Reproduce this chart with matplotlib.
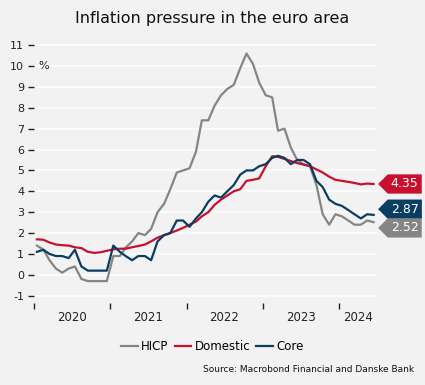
import numpy as np
import pandas as pd
import matplotlib
matplotlib.use("Agg")
import matplotlib.pyplot as plt
from matplotlib.path import Path

plt.rcParams["axes.unicode_minus"] = False

# monthly y/y rates, Jan 2020 - Jun 2024
hicp = [1.4, 1.2, 0.7, 0.3, 0.1, 0.3, 0.4, -0.2, -0.3, -0.3, -0.3, -0.3,
        0.9, 0.9, 1.3, 1.6, 2.0, 1.9, 2.2, 3.0, 3.4, 4.1, 4.9, 5.0,
        5.1, 5.9, 7.4, 7.4, 8.1, 8.6, 8.9, 9.1, 9.9, 10.6, 10.1, 9.2,
        8.6, 8.5, 6.9, 7.0, 6.1, 5.5, 5.3, 5.2, 4.3, 2.9, 2.4, 2.9,
        2.8, 2.6, 2.4, 2.4, 2.6, 2.52]
domestic = [1.70, 1.68, 1.55, 1.45, 1.42, 1.40, 1.32, 1.28, 1.10, 1.05, 1.08, 1.15,
            1.22, 1.25, 1.25, 1.32, 1.38, 1.45, 1.60, 1.78, 1.90, 2.00, 2.12, 2.25,
            2.40, 2.55, 2.80, 3.00, 3.35, 3.60, 3.80, 4.00, 4.10, 4.50, 4.55, 4.62,
            5.20, 5.68, 5.65, 5.55, 5.45, 5.35, 5.28, 5.20, 5.05, 4.90, 4.70, 4.55,
            4.50, 4.45, 4.40, 4.33, 4.37, 4.35]
core = [1.1, 1.2, 1.0, 0.9, 0.9, 0.8, 1.2, 0.4, 0.2, 0.2, 0.2, 0.2,
        1.4, 1.1, 0.9, 0.7, 0.9, 0.9, 0.7, 1.6, 1.9, 2.0, 2.6, 2.6,
        2.3, 2.7, 3.0, 3.5, 3.8, 3.7, 4.0, 4.3, 4.8, 5.0, 5.0, 5.2,
        5.3, 5.6, 5.7, 5.6, 5.3, 5.5, 5.5, 5.3, 4.5, 4.2, 3.6, 3.4,
        3.3, 3.1, 2.9, 2.7, 2.9, 2.87]
years = ["2020", "2021", "2022", "2023", "2024"]

dates = pd.date_range("2020-01-01", periods=len(hicp), freq="MS") + pd.Timedelta(days=14)

c_hicp = "#858585"
c_dom = "#c8102e"
c_core = "#0a3d62"
bg = "#f2f2f2"

fig = plt.figure(figsize=(4.25, 3.85), dpi=100, facecolor=bg)
ax = fig.add_axes([0.08, 0.213, 0.807, 0.686], facecolor=bg)

ax.plot(dates, hicp, color=c_hicp, lw=1.6, label="HICP")
ax.plot(dates, domestic, color=c_dom, lw=1.6, label="Domestic")
ax.plot(dates, core, color=c_core, lw=1.6, label="Core")

ax.set_ylim(-1.35, 11.3)
ax.set_yticks(range(-1, 12))
ax.grid(axis="y", color="white", lw=1.1)
ax.set_axisbelow(True)
for s in ax.spines.values():
    s.set_visible(False)

ax.set_xlim(pd.Timestamp("2020-01-01"), pd.Timestamp("2024-07-01"))
ax.set_xticks([pd.Timestamp(f"{y}-01-01") for y in years])
ax.set_xticklabels([])
mids = [pd.Timestamp(f"{y}-07-01") for y in years[:-1]] + [pd.Timestamp("2024-04-01")]
ax.set_xticks(mids, minor=True)
ax.set_xticklabels(years, minor=True)
ax.tick_params(axis="x", which="major", length=4, width=1, color="#222222")
ax.tick_params(axis="x", which="minor", length=0, pad=6, labelsize=8.5, labelcolor="#222222")
ax.tick_params(axis="y", length=4, width=1, pad=3, labelsize=8, color="#222222", labelcolor="#222222")

ax.text(0.012, 10, "%", transform=ax.get_yaxis_transform(), fontsize=8, va="center", color="#222222")


def tag_box(x0, y0, width, height, mutation_size):
    pad = 0.25 * mutation_size
    x0 -= pad
    y0 -= pad
    width += 2 * pad
    height += 2 * pad
    tip = height * 0.5
    return Path([(x0, y0), (x0 + width, y0), (x0 + width, y0 + height),
                 (x0, y0 + height), (x0 - tip, y0 + height / 2), (x0, y0)], closed=True)


# end labels, pushed apart when they would overlap
ends = [(domestic[-1], c_dom), (core[-1], c_core), (hicp[-1], c_hicp)]
ends.sort(key=lambda e: -e[0])
pos = [e[0] for e in ends]
sep = 0.9
for i in range(len(pos) - 1):
    if pos[i] - pos[i + 1] < sep:
        mid = (pos[i] + pos[i + 1]) / 2
        pos[i], pos[i + 1] = mid + sep / 2, mid - sep / 2
for (val, col), p in zip(ends, pos):
    ax.annotate(f"{val:.2f}", xy=(1, p), xycoords=("axes fraction", "data"),
                xytext=(10, 0), textcoords="offset points", ha="left", va="center",
                fontsize=9, color="white", annotation_clip=False,
                bbox=dict(boxstyle=tag_box, fc=col, ec="none"))

fig.legend(loc="center", bbox_to_anchor=(0.5, 0.099), ncol=3, frameon=False,
           fontsize=8.5, handlelength=1.4, handletextpad=0.3, columnspacing=0.5)

fig.text(0.5, 0.953, "Inflation pressure in the euro area", ha="center", va="center",
         fontsize=11.5, color="#111111", fontweight="medium")
fig.text(0.974, 0.041, "Source: Macrobond Financial and Danske Bank", ha="right", va="center",
         fontsize=6.5, color="#111111")

fig.savefig("out.png", dpi=100, facecolor=bg)
